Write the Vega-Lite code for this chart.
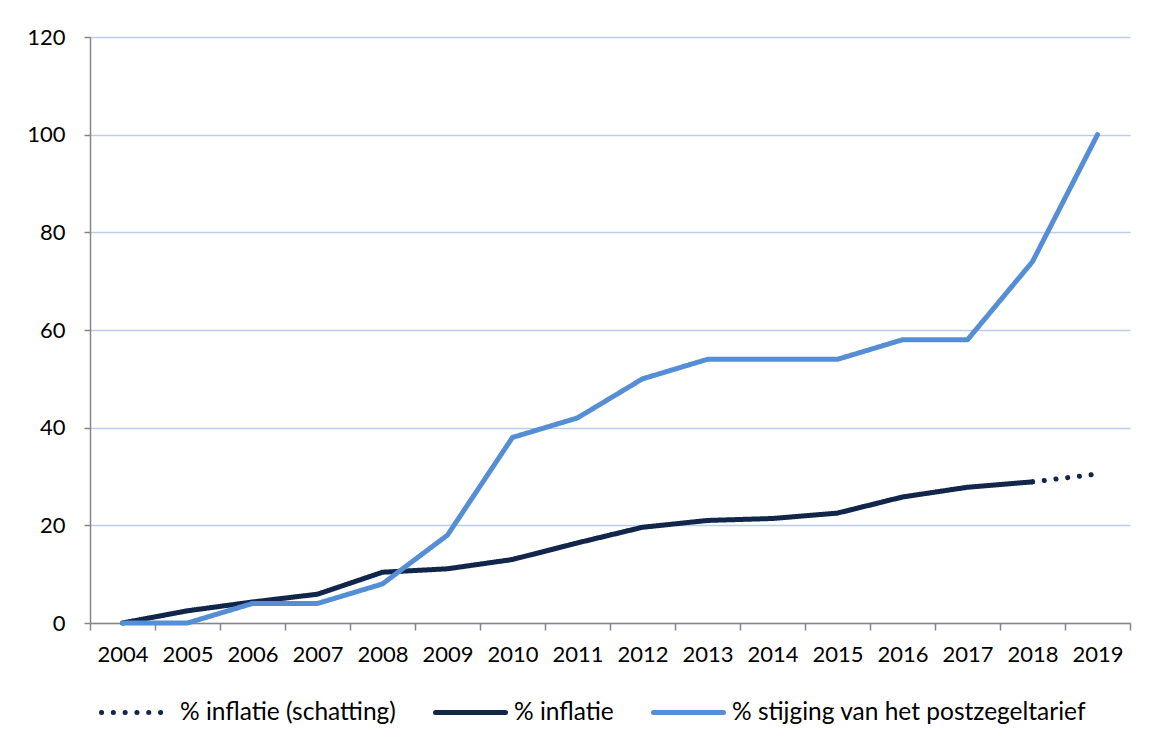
{
  "$schema": "https://vega.github.io/schema/vega-lite/v6.json",
  "autosize": "none",
  "width": 1040,
  "height": 586,
  "padding": {"left": 90, "top": 37, "right": 23, "bottom": 126},
  "background": "white",
  "config": {
    "font": "Lato",
    "view": {"stroke": null},
    "axis": {
      "labelFont": "Lato",
      "labelFontSize": 22,
      "labelColor": "#000000",
      "domainColor": "#868686",
      "domainWidth": 1.5,
      "tickColor": "#868686",
      "tickWidth": 1.5,
      "title": null
    },
    "legend": {
      "labelFont": "Lato",
      "labelFontSize": 24.5,
      "labelColor": "#000000",
      "labelLimit": 0
    }
  },
  "data": {
    "values": [
      {"jaar": "2004", "reeks": "% inflatie", "waarde": 0},
      {"jaar": "2005", "reeks": "% inflatie", "waarde": 2.5},
      {"jaar": "2006", "reeks": "% inflatie", "waarde": 4.3},
      {"jaar": "2007", "reeks": "% inflatie", "waarde": 5.9},
      {"jaar": "2008", "reeks": "% inflatie", "waarde": 10.4},
      {"jaar": "2009", "reeks": "% inflatie", "waarde": 11.1},
      {"jaar": "2010", "reeks": "% inflatie", "waarde": 13.0},
      {"jaar": "2011", "reeks": "% inflatie", "waarde": 16.4},
      {"jaar": "2012", "reeks": "% inflatie", "waarde": 19.6},
      {"jaar": "2013", "reeks": "% inflatie", "waarde": 21.0},
      {"jaar": "2014", "reeks": "% inflatie", "waarde": 21.4},
      {"jaar": "2015", "reeks": "% inflatie", "waarde": 22.5},
      {"jaar": "2016", "reeks": "% inflatie", "waarde": 25.8},
      {"jaar": "2017", "reeks": "% inflatie", "waarde": 27.8},
      {"jaar": "2018", "reeks": "% inflatie", "waarde": 28.9},
      {"jaar": "2018", "reeks": "% inflatie (schatting)", "waarde": 28.9},
      {"jaar": "2019", "reeks": "% inflatie (schatting)", "waarde": 30.5},
      {"jaar": "2004", "reeks": "% stijging van het postzegeltarief", "waarde": 0},
      {"jaar": "2005", "reeks": "% stijging van het postzegeltarief", "waarde": 0},
      {"jaar": "2006", "reeks": "% stijging van het postzegeltarief", "waarde": 4},
      {"jaar": "2007", "reeks": "% stijging van het postzegeltarief", "waarde": 4},
      {"jaar": "2008", "reeks": "% stijging van het postzegeltarief", "waarde": 8},
      {"jaar": "2009", "reeks": "% stijging van het postzegeltarief", "waarde": 18},
      {"jaar": "2010", "reeks": "% stijging van het postzegeltarief", "waarde": 38},
      {"jaar": "2011", "reeks": "% stijging van het postzegeltarief", "waarde": 42},
      {"jaar": "2012", "reeks": "% stijging van het postzegeltarief", "waarde": 50},
      {"jaar": "2013", "reeks": "% stijging van het postzegeltarief", "waarde": 54},
      {"jaar": "2014", "reeks": "% stijging van het postzegeltarief", "waarde": 54},
      {"jaar": "2015", "reeks": "% stijging van het postzegeltarief", "waarde": 54},
      {"jaar": "2016", "reeks": "% stijging van het postzegeltarief", "waarde": 58},
      {"jaar": "2017", "reeks": "% stijging van het postzegeltarief", "waarde": 58},
      {"jaar": "2018", "reeks": "% stijging van het postzegeltarief", "waarde": 74},
      {"jaar": "2019", "reeks": "% stijging van het postzegeltarief", "waarde": 100}
    ]
  },
  "mark": {"type": "line", "strokeWidth": 5, "strokeCap": "round", "strokeJoin": "round"},
  "encoding": {
    "x": {
      "field": "jaar",
      "type": "ordinal",
      "bandPosition": 0.5,
      "scale": {"type": "band", "paddingInner": 0, "paddingOuter": 0},
      "axis": {
        "labelAngle": 0,
        "tickBand": "extent",
        "tickSize": 7,
        "labelPadding": 14,
        "grid": false
      }
    },
    "y": {
      "field": "waarde",
      "type": "quantitative",
      "scale": {"domain": [0, 120], "nice": false},
      "axis": {
        "values": [0, 20, 40, 60, 80, 100, 120],
        "tickSize": 6,
        "labelPadding": 19,
        "grid": true,
        "gridColor": "#BCCCEB",
        "gridWidth": 1.3
      }
    },
    "color": {
      "field": "reeks",
      "type": "nominal",
      "scale": {
        "domain": ["% inflatie (schatting)", "% inflatie", "% stijging van het postzegeltarief"],
        "range": ["#11264A", "#11264A", "#558ED5"]
      },
      "legend": {
        "title": null,
        "orient": "none",
        "direction": "horizontal",
        "legendX": 9,
        "legendY": 638,
        "padding": 0,
        "symbolType": "stroke",
        "symbolSize": 4900,
        "symbolStrokeWidth": 5,
        "labelOffset": 6,
        "columnPadding": 29,
        "encode": {"symbols": {"update": {"strokeCap": {"value": "round"}}}}
      }
    },
    "strokeDash": {
      "field": "reeks",
      "type": "nominal",
      "scale": {
        "domain": ["% inflatie (schatting)", "% inflatie", "% stijging van het postzegeltarief"],
        "range": [[0.1, 11.7], [1, 0], [1, 0]]
      },
      "legend": {
        "title": null,
        "orient": "none",
        "direction": "horizontal",
        "legendX": 9,
        "legendY": 638,
        "padding": 0,
        "symbolType": "stroke",
        "symbolSize": 4900,
        "symbolStrokeWidth": 5,
        "labelOffset": 6,
        "columnPadding": 29,
        "encode": {"symbols": {"update": {"strokeCap": {"value": "round"}}}}
      }
    }
  }
}
